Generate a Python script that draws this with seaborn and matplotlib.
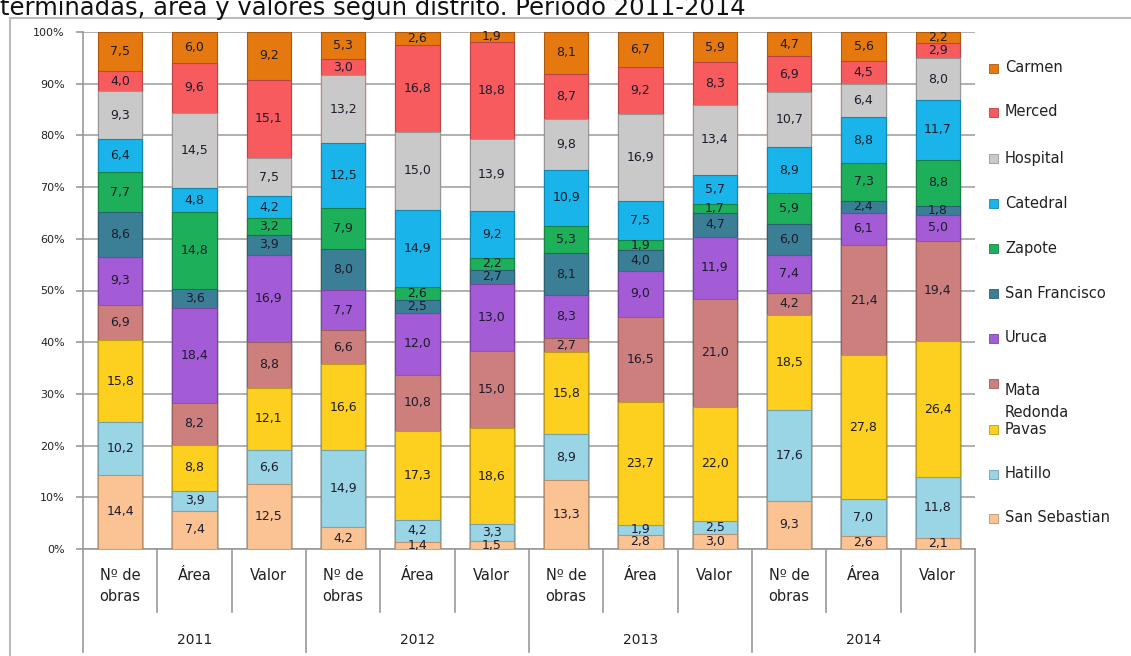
import numpy as np
import pandas as pd
import matplotlib
matplotlib.use('Agg')
import matplotlib.pyplot as plt
from matplotlib.patches import Rectangle
from matplotlib.lines import Line2D
import seaborn as sns

# bars: 4 years x 3 measures
years = ['2011', '2012', '2013', '2014']
measures = ['Nº de\nobras', 'Área', 'Valor']

# district shares (%) per bar, bottom to top of the stack
san_sebastian = [14.4, 7.4, 12.5, 4.2, 1.4, 1.5, 13.3, 2.8, 3.0, 9.3, 2.6, 2.1]
hatillo       = [10.2, 3.9, 6.6, 14.9, 4.2, 3.3, 8.9, 1.9, 2.5, 17.6, 7.0, 11.8]
pavas         = [15.8, 8.8, 12.1, 16.6, 17.3, 18.6, 15.8, 23.7, 22.0, 18.5, 27.8, 26.4]
mata_redonda  = [6.9, 8.2, 8.8, 6.6, 10.8, 15.0, 2.7, 16.5, 21.0, 4.2, 21.4, 19.4]
uruca         = [9.3, 18.4, 16.9, 7.7, 12.0, 13.0, 8.3, 9.0, 11.9, 7.4, 6.1, 5.0]
san_francisco = [8.6, 3.6, 3.9, 8.0, 2.5, 2.7, 8.1, 4.0, 4.7, 6.0, 2.4, 1.8]
zapote        = [7.7, 14.8, 3.2, 7.9, 2.6, 2.2, 5.3, 1.9, 1.7, 5.9, 7.3, 8.8]
catedral      = [6.4, 4.8, 4.2, 12.5, 14.9, 9.2, 10.9, 7.5, 5.7, 8.9, 8.8, 11.7]
hospital      = [9.3, 14.5, 7.5, 13.2, 15.0, 13.9, 9.8, 16.9, 13.4, 10.7, 6.4, 8.0]
merced        = [4.0, 9.6, 15.1, 3.0, 16.8, 18.8, 8.7, 9.2, 8.3, 6.9, 4.5, 2.9]
carmen        = [7.5, 6.0, 9.2, 5.3, 2.6, 1.9, 8.1, 6.7, 5.9, 4.7, 5.6, 2.2]

districts = ['San Sebastian', 'Hatillo', 'Pavas', 'Mata\nRedonda', 'Uruca',
             'San Francisco', 'Zapote', 'Catedral', 'Hospital', 'Merced', 'Carmen']
series = [san_sebastian, hatillo, pavas, mata_redonda, uruca, san_francisco,
          zapote, catedral, hospital, merced, carmen]
colors = ['#FBC393', '#9AD5E6', '#FDD020', '#CD7F7D', '#A45BD6', '#3A7F96',
          '#1DAF5A', '#19B4EA', '#C9C9C9', '#F75B5E', '#E5780F']

bar_ids = [f'{y}-{m}' for y in years for m in ['n', 'a', 'v']]

# long table with 100%-normalised stacking
vals = np.array(series)
shares = vals / vals.sum(axis=0) * 100
top = np.cumsum(shares, axis=0)
rows = []
for i, d in enumerate(districts):
    for j, b in enumerate(bar_ids):
        rows.append({'bar': b, 'district': d, 'value': vals[i, j],
                     'top': top[i, j], 'mid': top[i, j] - shares[i, j] / 2})
df = pd.DataFrame(rows)

W, H = 1131, 656
fig = plt.figure(figsize=(W / 100, H / 100), dpi=100)
ax = fig.add_axes([83 / W, 1 - 549 / H, (975 - 83) / W, (549 - 32) / H])


def darker(c, f=0.75):
    r, g, b = matplotlib.colors.to_rgb(c)
    return (r * f, g * f, b * f)


# draw from the tallest cumulative layer down so lower segments sit on top
for i in reversed(range(len(districts))):
    layer = df[df['district'] == districts[i]]
    sns.barplot(data=layer, x='bar', y='top', order=bar_ids, color=colors[i],
                width=0.6, saturation=1, edgecolor=darker(colors[i]),
                linewidth=0.8, ax=ax, zorder=3)

for _, r in df.iterrows():
    x = bar_ids.index(r['bar'])
    ax.text(x, r['mid'], f"{r['value']:.1f}".replace('.', ','), ha='center',
            va='center', fontsize=9, color='#1c1c2c', zorder=5)

ax.set_xlim(-0.5, len(bar_ids) - 0.5)
ax.set_ylim(0, 100)
ax.set_yticks(np.arange(0, 101, 10))
ax.set_yticklabels([f'{t}%' for t in range(0, 101, 10)], fontsize=8, color='#222222')
ax.tick_params(axis='y', length=5, color='#999999', width=1.2, pad=8)
ax.set_xticks([])
ax.set_xlabel('')
ax.set_ylabel('')
ax.grid(axis='y', color='#AAAAAA', linewidth=1.3, zorder=0)
ax.set_axisbelow(True)
for s in ['top', 'right']:
    ax.spines[s].set_visible(False)
ax.spines['left'].set_color('#999999')
ax.spines['bottom'].set_color('#999999')
ax.spines['left'].set_linewidth(1.2)
ax.spines['bottom'].set_linewidth(1.2)

# multi-level category axis
tr = ax.get_xaxis_transform()
y_in = -(612 - 549) / (549 - 32)
y_out = -(652 - 549) / (549 - 32)
for k in range(len(bar_ids) + 1):
    xb = k - 0.5
    lo = y_out if k % 3 == 0 else y_in
    ax.add_line(Line2D([xb, xb], [0, lo], transform=tr, color='#999999',
                       linewidth=1.2, clip_on=False))
for j in range(len(bar_ids)):
    m = measures[j % 3]
    ax.text(j, -(568 - 549) / (549 - 32), m, transform=tr, ha='center', va='top',
            fontsize=10.5, color='#222222', linespacing=1.5)
for g, y in enumerate(years):
    ax.text(g * 3 + 1, -(640 - 549) / (549 - 32), y, transform=tr, ha='center',
            va='center', fontsize=10, color='#222222')

# legend on the right
legend_y = [68, 112, 158, 203, 248, 293, 338, 383, 429, 474, 518]
order = list(reversed(range(len(districts))))
for yy, i in zip(legend_y, order):
    fig.patches.append(Rectangle((989 / W, 1 - (yy + 5) / H), 9 / W, 9 / H,
                                 transform=fig.transFigure, facecolor=colors[i],
                                 edgecolor=darker(colors[i]), linewidth=0.6))
    fig.text(1005 / W, 1 - yy / H, districts[i], ha='left', va='top' if '\n' in districts[i] else 'center',
             fontsize=10.5, color='#222222', linespacing=1.55)

# chart border and clipped title
fig.add_artist(Line2D([10 / W, 10 / W], [0, 1 - 18 / H], color='#BBBBBB', linewidth=1.5))
fig.add_artist(Line2D([10 / W, 1], [1 - 18 / H, 1 - 18 / H], color='#BBBBBB', linewidth=1.5))
fig.text(0, 1 - 15 / H, 'terminadas, área y valores según distrito. Período 2011-2014',
         ha='left', va='baseline', fontsize=17.5, color='#111111')

fig.savefig('out.png', dpi=100)
